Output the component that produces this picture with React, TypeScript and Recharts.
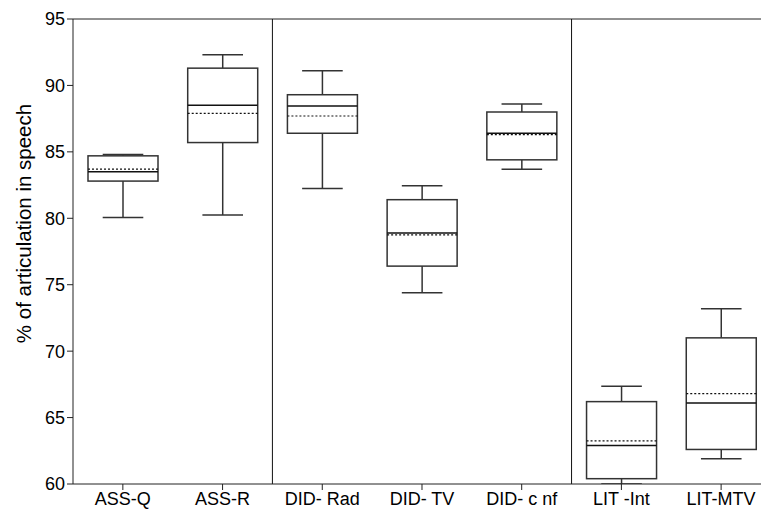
import { Bar, ComposedChart, ReferenceLine, XAxis, YAxis } from "recharts"

// values
const categories = ["ASS-Q", "ASS-R", "DID- Rad", "DID- TV", "DID- c nf", "LIT -Int", "LIT-MTV"]
const mins = [80.05, 80.25, 82.25, 74.4, 83.7, 60.0, 61.9]
const q1s = [82.8, 85.7, 86.4, 76.4, 84.4, 60.4, 62.6]
const medians = [83.5, 88.5, 88.45, 78.9, 86.4, 62.9, 66.1]
const means = [83.7, 87.9, 87.7, 78.75, 86.3, 63.25, 66.8]
const q3s = [84.7, 91.3, 89.3, 81.4, 88.0, 66.2, 71.0]
const maxs = [84.8, 92.3, 91.1, 82.45, 88.6, 67.35, 73.2]
const yTicks = [60, 65, 70, 75, 80, 85, 90, 95]
const yTitle = "% of articulation in speech"

const data = categories.map((name, i) => ({
  pos: i + 1,
  name,
  range: [mins[i], maxs[i]],
  q1: q1s[i],
  median: medians[i],
  mean: means[i],
  q3: q3s[i],
}))

const font = "'Liberation Sans', Arial, sans-serif"

function BoxShape(props: any) {
  const { x, y, width, height } = props
  const p = props.payload ?? props
  const [lo, hi] = p.range
  const top = Math.min(y, y + height)
  const span = Math.abs(height)
  // map a value to pixels from the bar that the y scale placed
  const py = (v: number) => top + ((hi - v) / (hi - lo)) * span
  const cx = x + width / 2
  const cap = width * 0.29
  const stroke = "#333"
  return (
    <g>
      <line x1={cx} x2={cx} y1={py(hi)} y2={py(p.q3)} stroke={stroke} strokeWidth={1.5} />
      <line x1={cx} x2={cx} y1={py(p.q1)} y2={py(lo)} stroke={stroke} strokeWidth={1.5} />
      <line x1={cx - cap} x2={cx + cap} y1={py(hi)} y2={py(hi)} stroke={stroke} strokeWidth={1.5} />
      <line x1={cx - cap} x2={cx + cap} y1={py(lo)} y2={py(lo)} stroke={stroke} strokeWidth={1.5} />
      <rect
        x={x}
        y={py(p.q3)}
        width={width}
        height={py(p.q1) - py(p.q3)}
        fill="#fff"
        stroke={stroke}
        strokeWidth={1.5}
      />
      <line x1={x} x2={x + width} y1={py(p.median)} y2={py(p.median)} stroke="#111" strokeWidth={1.5} />
      <line
        x1={x}
        x2={x + width}
        y1={py(p.mean)}
        y2={py(p.mean)}
        stroke="#111"
        strokeWidth={1.2}
        strokeDasharray="2 2"
      />
    </g>
  )
}

function YTitle(props: any) {
  const vb = props.viewBox ?? { x: 13, y: 19, width: 60, height: 465 }
  const tx = 23
  const ty = vb.y + vb.height / 2 - 28
  return (
    <text
      x={tx}
      y={ty}
      transform={`rotate(-90 ${tx} ${ty})`}
      textAnchor="middle"
      dominantBaseline="central"
      fill="#000"
      fontSize={20.5}
      fontFamily={font}
    >
      {yTitle}
    </text>
  )
}

export default function App() {
  return (
    <div style={{ position: "absolute", left: 0, top: 0 }}>
      <ComposedChart width={761} height={513} data={data} margin={{ top: 19, right: 0, bottom: 4, left: 13 }}>
        <XAxis
          dataKey="pos"
          type="number"
          domain={[0.5, 7.4]}
          allowDataOverflow
          ticks={[1, 2, 3, 4, 5, 6, 7]}
          tickFormatter={(v) => categories[v - 1]}
          height={25}
          tickSize={6}
          stroke="#222"
          tick={{ fill: "#000", fontSize: 18, fontFamily: font }}
          interval={0}
        />
        <YAxis
          type="number"
          domain={[60, 95]}
          ticks={yTicks}
          allowDataOverflow
          width={60}
          tickSize={6}
          stroke="#222"
          tick={{ fill: "#000", fontSize: 18, fontFamily: font }}
          label={<YTitle />}
        />
        <ReferenceLine y={95} stroke="#222" />
        <ReferenceLine x={2.5} stroke="#111" />
        <ReferenceLine x={5.5} stroke="#111" />
        <Bar dataKey="range" barSize={70} shape={BoxShape} isAnimationActive={false} />
      </ComposedChart>
    </div>
  )
}
